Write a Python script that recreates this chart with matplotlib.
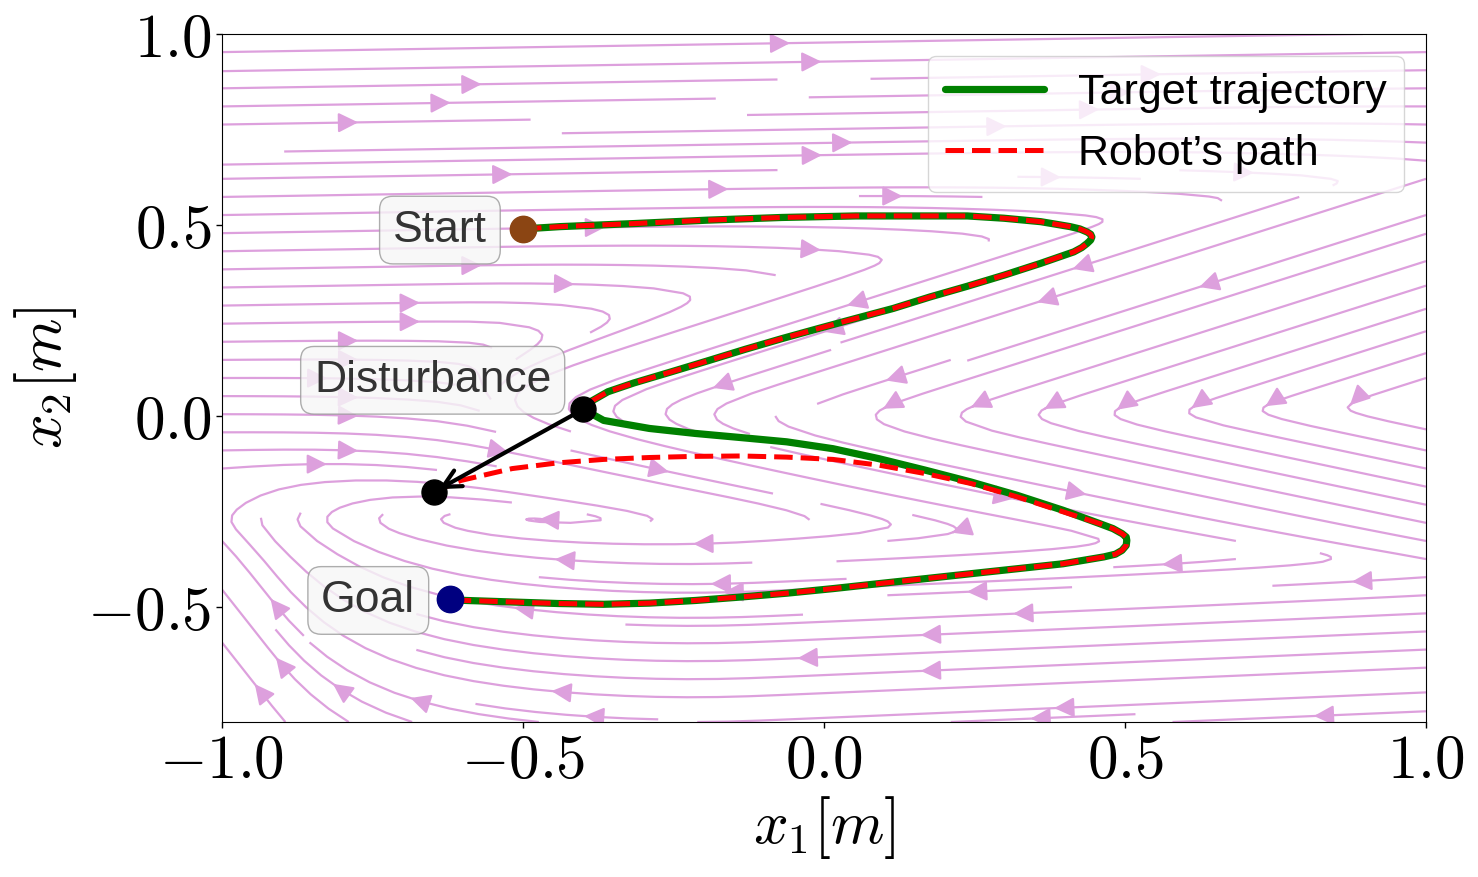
import numpy as np
import matplotlib
matplotlib.use("Agg")
import matplotlib.pyplot as plt
from matplotlib.ticker import FuncFormatter

plt.rcParams['mathtext.fontset'] = 'cm'

# ---------------- data ----------------
target_x = [-0.500, -0.439, -0.316, -0.193, -0.070, 0.053, 0.176, 0.238, 0.299, 0.360,
            0.409, 0.425, 0.437, 0.443, 0.445, 0.443, 0.437, 0.428, 0.415, 0.360,
            0.299, 0.238, 0.176, 0.115, 0.053, -0.008, -0.070, -0.131, -0.193, -0.254,
            -0.316, -0.359, -0.389, -0.402,
            -0.366, -0.290, -0.214, -0.137, -0.062, 0.015, 0.091, 0.168, 0.244, 0.321,
            0.397, 0.458, 0.480, 0.495, 0.502, 0.503, 0.502, 0.495, 0.484, 0.465,
            0.397, 0.321, 0.244, 0.168, 0.091, 0.015, -0.062, -0.138, -0.213, -0.290,
            -0.366, -0.442, -0.519, -0.595, -0.621]
target_y = [0.490, 0.496, 0.504, 0.513, 0.520, 0.524, 0.524, 0.524, 0.518, 0.509,
            0.496, 0.490, 0.482, 0.476, 0.469, 0.461, 0.452, 0.441, 0.430, 0.400,
            0.369, 0.340, 0.312, 0.282, 0.256, 0.230, 0.203, 0.175, 0.145, 0.116,
            0.087, 0.064, 0.037, 0.020,
            -0.011, -0.032, -0.045, -0.056, -0.067, -0.085, -0.111, -0.141, -0.172, -0.207,
            -0.246, -0.281, -0.294, -0.307, -0.316, -0.325, -0.338, -0.351, -0.361, -0.368,
            -0.386, -0.399, -0.412, -0.425, -0.438, -0.451, -0.463, -0.473, -0.482, -0.489,
            -0.492, -0.490, -0.486, -0.482, -0.479]

# robot path after the disturbance (until it rejoins the target)
robot_dist_x = [-0.648, -0.603, -0.518, -0.442, -0.366, -0.290, -0.213, -0.137, -0.062,
                0.015, 0.091, 0.168, 0.244, 0.321, 0.397]
robot_dist_y = [-0.198, -0.168, -0.137, -0.122, -0.113, -0.108, -0.105, -0.104, -0.107,
                -0.113, -0.128, -0.150, -0.176, -0.211, -0.250]
disturb_index = 33      # target point where the disturbance happens
rejoin_index = 45       # target point after which robot follows target again

start_pt = (-0.500, 0.490)
goal_pt = (-0.621, -0.479)
disturb_from = (-0.400, 0.018)
disturb_to = (-0.648, -0.198)

labels_text = ["Start", "Disturbance", "Goal"]
labels_pos = [(-0.638, 0.487), (-0.650, 0.094), (-0.757, -0.482)]

xticks = [-1.0, -0.5, 0.0, 0.5, 1.0]
yticks = [-0.5, 0.0, 0.5, 1.0]

# ---------------- vector field (learned-DS like) ----------------
def softplus(z):
    return np.logaddexp(0, z)

xs = np.linspace(-1, 1, 220)
ys = np.linspace(-0.8, 1.0, 200)
X, Y = np.meshgrid(xs, ys)

c = 0.19 + 0.15 * X
G = 0.06 * (X + 0.60) - 0.6 * 0.02 * softplus(-(X + 0.60) / 0.02)
Q = (Y - c) ** 2 - G
r3 = -0.27 - 0.12 * 0.05 * softplus(X / 0.05)
P = Q * (Y - r3)
k = 600.0
Us_pos = 3 + 9 / (1 + np.exp(-(Y - c) / 0.06))
Us_neg = np.where(Y > r3, 2.0, 6.0)
Us = np.where(P > 0, Us_pos, Us_neg)
U = Us * np.tanh(k * P / Us)

ytop = c + np.sqrt(np.maximum(G, 0))
D = np.exp(-(np.maximum(Y - ytop, 0) / 0.14) ** 2)
mleft = 1 / (1 + np.exp(-(X + 0.7) / 0.08))
V_main = -D * mleft + 0.3 * (1 - D)
xc = -0.22
d = X - xc
V_low = np.clip(-(3.5 * d + 60 * d ** 5), -0.4, 12)
w = 1 / (1 + np.exp((Y - r3) / 0.04))
V = w * V_low + (1 - w) * V_main

# ---------------- figure ----------------
fig = plt.figure(figsize=(14.78, 8.77), dpi=100)
ax = fig.add_axes([222 / 1478, 1 - 722 / 877, (1426 - 222) / 1478, (722 - 34) / 877])

ax.streamplot(X, Y, U, V, density=1.3, color='plum', linewidth=1.6,
              arrowsize=3.0, arrowstyle='-|>', zorder=1)

ax.plot(target_x, target_y, color='green', lw=5.2, solid_joinstyle='round',
        solid_capstyle='round', zorder=3, label='Target trajectory')

robot_x = target_x[:disturb_index + 1] + [np.nan] + robot_dist_x + target_x[rejoin_index:]
robot_y = target_y[:disturb_index + 1] + [np.nan] + robot_dist_y + target_y[rejoin_index:]
ax.plot(robot_x, robot_y, color='red', lw=3.6, ls='--', zorder=4, label='Robot\u2019s path')

ax.annotate('', xy=disturb_to, xytext=disturb_from,
            arrowprops=dict(arrowstyle='->', color='black', lw=3, mutation_scale=32,
                            shrinkA=0, shrinkB=4), zorder=5)

ax.plot(*start_pt, 'o', color='#8B4513', ms=19, zorder=6)
ax.plot(*goal_pt, 'o', color='#000080', ms=19, zorder=6)
ax.plot([disturb_from[0], disturb_to[0]], [disturb_from[1], disturb_to[1]], 'o',
        color='black', ms=18, ls='none', zorder=6)

for t, (tx, ty) in zip(labels_text, labels_pos):
    ax.text(tx, ty, t, ha='center', va='center', fontsize=32, color='#333333',
            family=['Liberation Sans', 'DejaVu Sans'], zorder=7,
            bbox=dict(boxstyle='round,pad=0.3', facecolor='#f7f7f7',
                      edgecolor='#999999', alpha=0.8, lw=1))

ax.set_xlim(-1, 1)
ax.set_ylim(-0.8, 1.0)
ax.set_xticks(xticks)
ax.set_yticks(yticks)
fmt = FuncFormatter(lambda v, p: f'${v:.1f}$')
ax.xaxis.set_major_formatter(fmt)
ax.yaxis.set_major_formatter(fmt)
ax.tick_params(labelsize=44, width=1, length=4)
ax.set_xlabel('$x_1[m]$', fontsize=44, labelpad=2)
ax.set_ylabel('$x_2[m]$', fontsize=44, labelpad=6)

leg = ax.legend(loc='upper right', prop={'family': ['Liberation Sans', 'DejaVu Sans'], 'size': 31},
                handlelength=2.3)
leg.set_zorder(10)

fig.savefig('out.png', dpi=100)
